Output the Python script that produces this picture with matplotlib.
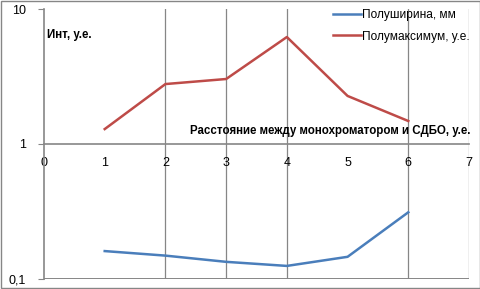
import numpy as np
import matplotlib
matplotlib.use('Agg')
import matplotlib.pyplot as plt
from matplotlib.ticker import FixedLocator, FixedFormatter, NullLocator

x_vals = [1, 2, 3, 4, 5, 6]
halfwidth = [0.161, 0.149, 0.134, 0.125, 0.146, 0.312]
halfmax = [1.29, 2.78, 3.03, 6.2, 2.27, 1.48]
x_ticks = [0, 1, 2, 3, 4, 5, 6, 7]
grid_x = [2, 3, 4, 6, 7]
y_ticks = [0.1, 1, 10]
y_labels = ['0,1', '1', '10']

plt.rcParams['font.family'] = ['Liberation Sans', 'DejaVu Sans']
axis_gray = '#868686'

fig = plt.figure(figsize=(4.81, 2.89), dpi=100)
# outer chart border
fig.patches.append(plt.Rectangle((0.002, 0.003), 0.995, 0.994, transform=fig.transFigure,
                                 fill=False, edgecolor=axis_gray, linewidth=1.0))

ax = fig.add_axes([44 / 481, 10 / 289, 425 / 481, 270 / 289])
ax.set_yscale('log')
ax.set_xlim(0, 7)
ax.set_ylim(0.1, 10)

for gx in grid_x:
    ax.axvline(gx, color=axis_gray, linewidth=0.9, zorder=1)
ax.axhline(0.1, color=axis_gray, linewidth=1.4, zorder=1)

ax.plot(x_vals, halfwidth, color='#4A7EBB', linewidth=1.8, label='Полуширина, мм', zorder=3)
ax.plot(x_vals, halfmax, color='#BE4B48', linewidth=1.8, label='Полумаксимум, у.е.', zorder=3)

ax.spines['top'].set_visible(False)
ax.spines['right'].set_visible(False)
ax.spines['left'].set_color(axis_gray)
ax.spines['left'].set_linewidth(1.2)
ax.spines['bottom'].set_position(('data', 1))
ax.spines['bottom'].set_color(axis_gray)
ax.spines['bottom'].set_linewidth(1.2)

ax.yaxis.set_major_locator(FixedLocator(y_ticks))
ax.yaxis.set_major_formatter(FixedFormatter(y_labels))
ax.yaxis.set_minor_locator(NullLocator())
ax.xaxis.set_major_locator(FixedLocator(x_ticks))
ax.tick_params(axis='y', length=4, color=axis_gray, labelsize=9, pad=9)
ax.tick_params(axis='x', length=0, labelsize=9, pad=9)

ax.text(0.05, 6.4, 'Инт, у.е.', fontsize=8.3, fontweight='bold', ha='left', va='center')
ax.text(7.02, 1.13, 'Расстояние между монохроматором и СДБО, у.е.', fontsize=8.3,
        fontweight='bold', ha='right', va='bottom')

ax.legend(loc='upper left', bbox_to_anchor=(0.655, 1.04), frameon=False, fontsize=8.6,
          handlelength=2.3, handletextpad=0.1, labelspacing=0.8)

fig.savefig('out.png', dpi=100)
